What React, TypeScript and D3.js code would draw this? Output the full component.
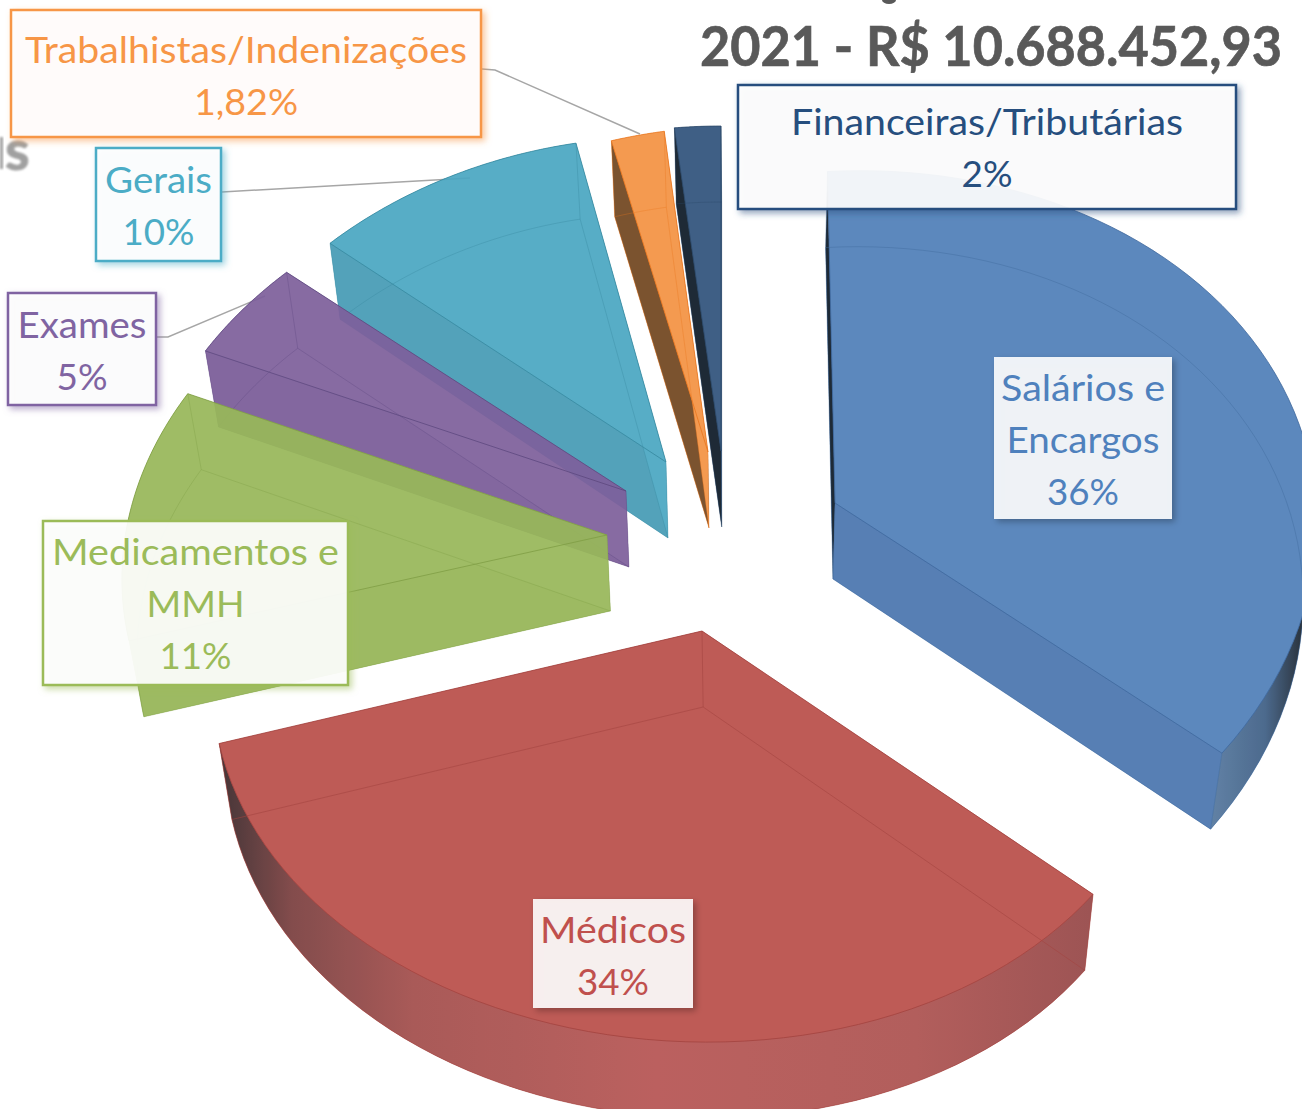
import React from "react";
import * as d3 from "d3";

// ---------- data ----------
const categories = ["Salários e Encargos", "Médicos", "Medicamentos e MMH", "Exames", "Gerais", "Trabalhistas/Indenizações", "Financeiras/Tributárias"];
const values = [36.5, 33.5, 11.4, 4.6, 10.5, 1.82, 1.68];
const labelLines = [
  ["Salários e", "Encargos", "36%"],
  ["Médicos", "34%"],
  ["Medicamentos e", "MMH", "11%"],
  ["Exames", "5%"],
  ["Gerais", "10%"],
  ["Trabalhistas/Indenizações", "1,82%"],
  ["Financeiras/Tributárias", "2%"],
];
const titleText = "2021 - R$ 10.688.452,93";

// ---------- styles & layout ----------
const W = 1302, H = 1109;
const faceColors = ["#5C88BE", "#BF5B57", "#9FBD66", "#876BA3", "#58ADC6", "#F59B50", "#3F5F85"];
const textColors = ["#4F81BD", "#C0504D", "#9BBB59", "#8064A2", "#4BACC6", "#F79646", "#264E7E"];
const edgeColors = ["#3F689C", "#A34340", "#7F9D45", "#5E4880", "#37889F", "#E8761E", "#2C4868"];
const startWall = ["#1F2A36", "#BF5B57", "#9DBA63", "#83679F", "#54A3BA", "#7C5330", "#1F2A36"];
const endWall = ["#5880B5", "#BF5B57", "#9FBD66", "#876BA3", "#58ADC6", "#F59B50", "#3F5F85"];
// per-slice exploded position of the top-face apex and its small perspective corrections
const apexes: [number, number][] = [[835, 503], [702, 631], [607, 535], [626, 491], [666, 462], [708, 452], [721, 451]];
const shearY = [-0.04, 0.008, 0.022, 0.01, 0.01, -0.06, 0];
const startNudgeDeg = [-1.0, 0, 0, 0, 0, -0.8, -0.4];
const endNudgeDeg = [0, 0, -0.7, 0, 0, 0, 0];
const scaleX = [1, 1, 0.99, 1, 0.99, 1, 1];
const scaleY = [1.021, 1, 1, 1, 1, 1, 1];
const radiusX = [479, 476, 476, 476, 476, 476, 476];
const perspX = [0.108, 0.15, 0.15, 0.15, 0.15, 0.15, 0.15];
const skew = [0, 0.018, 0.018, 0.018, 0.018, 0.018, 0.018];
const hiddenLineOpacity = [0.4, 0.55, 0.35, 0.35, 0.35, 0.35, 0.35];
const drawOrder = [6, 5, 4, 3, 2, 1, 0];
// perspective ellipse
const RY = 363, KY = 0.117, DEPTH = 76, VANISH_X = 750, LEAN = 0.024;
const GROUP_OPACITY = 0.93;
// label boxes: x0,y0,x1,y1, first baseline
const boxes = [
  [994, 357, 1172, 519, 401], [533, 899, 693, 1008, 943], [43, 521, 348, 685, 565],
  [8, 293, 156, 405, 338], [96, 148, 221, 261, 193], [11, 10, 481, 137, 63], [738, 85, 1236, 209, 135],
];
const boxStroke = [false, false, true, true, true, true, true];
const textWidths: Record<string, number> = {
  "Salários e": 164, "Encargos": 153, "36%": 72, "Médicos": 146, "34%": 72, "Medicamentos e": 287, "MMH": 98, "11%": 72,
  "Exames": 129, "5%": 51, "Gerais": 107, "10%": 72, "Trabalhistas/Indenizações": 442, "1,82%": 104,
  "Financeiras/Tributárias": 392, "2%": 51,
};
const leaders: [number, number][][] = [
  [[482, 69], [495, 70], [640, 134]],
  [[222, 192], [470, 178]],
  [[157, 337], [168, 337], [265, 296]],
];

const pieAngles = d3.pie<number>().sort(null).value((d) => d)(values);
const opaque = (hex: string) => {
  const c = d3.rgb(hex);
  const f = (v: number) => Math.max(0, Math.min(255, (v - (1 - GROUP_OPACITY) * 255) / GROUP_OPACITY));
  return d3.rgb(f(c.r), f(c.g), f(c.b)).formatHex();
};
const topPoint = (i: number, t: number, r = 1): [number, number] => {
  const [ax, ay] = apexes[i];
  const X = Math.sin(t), C = Math.cos(t);
  const dx = (scaleX[i] * r * radiusX[i] * X * (1 - skew[i] * X)) / (1 + perspX[i] * C);
  const dy = (-scaleY[i] * r * RY * C) / (1 + KY * C) + shearY[i] * dx;
  return [ax + dx, ay + dy];
};
const drop = (p: [number, number]): [number, number] => [p[0] - (p[0] - VANISH_X) * LEAN, p[1] + DEPTH];
const closed = d3.line().curve(d3.curveLinearClosed);
const open = d3.line();

function Slice({ i }: { i: number }) {
  const a0 = pieAngles[i].startAngle + (startNudgeDeg[i] * Math.PI) / 180;
  const a1 = pieAngles[i].endAngle + (endNudgeDeg[i] * Math.PI) / 180;
  const thetas = d3.range(0, 61).map((k) => a0 + ((a1 - a0) * k) / 60);
  const arcTop = thetas.map((t) => topPoint(i, t));
  const arcBot = arcTop.map(drop);
  const A = topPoint(i, 0, 0);
  const B = drop(A);
  const face = [A, ...arcTop];
  const bot = [B, ...arcBot];
  const sT = arcTop[0], eT = arcTop[60], sB = arcBot[0], eB = arcBot[60];
  const fill = opaque(faceColors[i]);
  const edge = edgeColors[i];
  const shaded = i === 0 || i === 1;
  // the outer rim is only seen where it faces the viewer
  const rimTop = thetas.map((t) => topPoint(i, t)).filter((_, k) => !shaded || Math.cos(thetas[k]) < 0.1);
  const outer = closed([...rimTop, ...rimTop.map(drop).reverse()])!;
  const hidden = hiddenLineOpacity[i];
  return (
    <g>
      <g opacity={GROUP_OPACITY}>
        <path d={closed(bot)!} fill={fill} />
        {!shaded && <path d={outer} fill={opaque(endWall[i])} />}
        <path d={closed([A, sT, sB, B])!} fill={opaque(startWall[i])} />
        <path d={closed([A, eT, eB, B])!} fill={opaque(endWall[i])} />
        {shaded && <path d={outer} fill={`url(#wall${i})`} />}
        <path d={closed(face)!} fill={fill} />
      </g>
      <path d={closed(bot)!} fill="none" stroke={edge} strokeOpacity={hidden} strokeWidth={1} />
      <path d={open([A, B])!} stroke={edge} strokeOpacity={hidden} fill="none" />
      <path d={open([sT, sB])!} stroke={edge} strokeOpacity={hidden} fill="none" />
      <path d={open([eT, eB])!} stroke={edge} strokeOpacity={hidden} fill="none" />
      <path d={closed(face)!} fill="none" stroke={edge} strokeOpacity={0.8} strokeWidth={1} />
    </g>
  );
}

function Label({ i }: { i: number }) {
  const [x0, y0, x1, y1, base] = boxes[i];
  const cx = (x0 + x1) / 2;
  return (
    <g>
      <rect x={x0} y={y0} width={x1 - x0} height={y1 - y0} fill="#fff" fillOpacity={i === 0 || i === 1 ? 0.89 : 0.9}
        stroke={boxStroke[i] ? textColors[i] : "none"} strokeWidth={2.5} filter={`url(#shadow${i})`} />
      {labelLines[i].map((ln, k) => (
        <text key={k} x={cx} y={base + k * 52} textAnchor="middle" fill={textColors[i]} fontFamily="Lato" fontSize={37}
          textLength={textWidths[ln]} lengthAdjust="spacingAndGlyphs">{ln}</text>
      ))}
    </g>
  );
}

export default function App() {
  return (
    <svg width={W} height={H} viewBox={`0 0 ${W} ${H}`} style={{ position: "fixed", left: 0, top: 0, display: "block", background: "#fff" }}>
      <defs>
        {textColors.map((c, i) => (
          <filter key={i} id={`shadow${i}`} x="-10%" y="-10%" width="125%" height="125%">
            <feDropShadow dx={3} dy={3} stdDeviation={3} floodColor={i < 2 ? "#000" : c} floodOpacity={i < 2 ? 0.3 : 0.55} />
          </filter>
        ))}
        <linearGradient id="wall0" gradientUnits="userSpaceOnUse" x1={1210} x2={1302} y1={0} y2={0}>
          <stop offset="0" stopColor="#56799F" />
          <stop offset="0.6" stopColor="#3F5F85" />
          <stop offset="1" stopColor="#1B2530" />
        </linearGradient>
        <linearGradient id="wall1" gradientUnits="userSpaceOnUse" x1={222} x2={1090} y1={0} y2={0}>
          <stop offset="0" stopColor="#3A282A" />
          <stop offset="0.08" stopColor="#7A3F3F" />
          <stop offset="0.22" stopColor="#A34E4C" />
          <stop offset="0.5" stopColor="#B65553" />
          <stop offset="0.8" stopColor="#AD5250" />
          <stop offset="1" stopColor="#964848" />
        </linearGradient>
        <filter id="blur"><feGaussianBlur stdDeviation={1.2} /></filter>
      </defs>
      <text x={991} y={66} textAnchor="middle" fontFamily="Lato" fontWeight={700} fontSize={55} fill="#595959" stroke="#595959" strokeWidth={0.7}
        textLength={582} lengthAdjust="spacingAndGlyphs">{titleText}</text>
      <ellipse cx={889} cy={0} rx={7} ry={4} fill="#595959" />
      <rect x={0} y={137} width={3} height={32} fill="#A0A0A0" filter="url(#blur)" />
      <text x={5} y={170} fontFamily="Lato" fontWeight={700} fontSize={56} fill="#A0A0A0" stroke="#A0A0A0" filter="url(#blur)">s</text>
      {leaders.map((pts, k) => (
        <path key={k} d={open(pts)!} fill="none" stroke="#A6A6A6" strokeWidth={1.5} />
      ))}
      {drawOrder.map((i) => <Slice key={categories[i]} i={i} />)}
      {[6, 5, 4, 3, 2, 1, 0].map((i) => <Label key={i} i={i} />)}
    </svg>
  );
}
